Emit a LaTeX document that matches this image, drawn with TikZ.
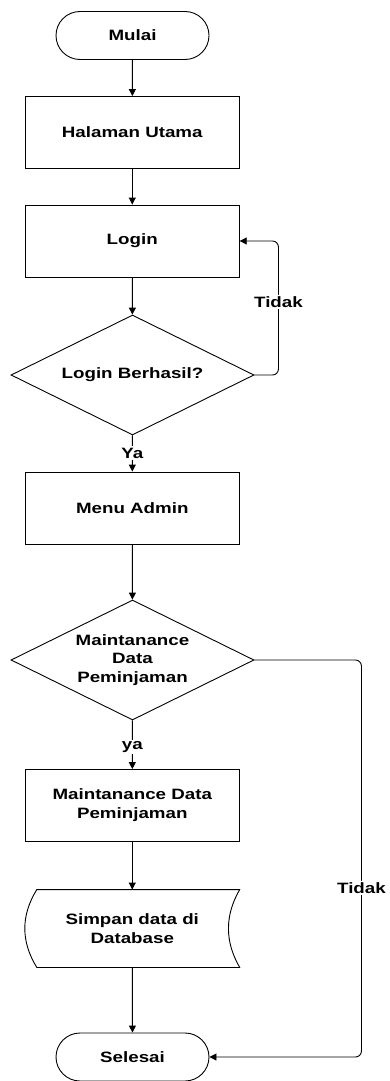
\documentclass[tikz,border=0pt]{standalone}
\usepackage{fontspec}
\setmainfont{Liberation Sans}[FakeStretch=1.25]
\usetikzlibrary{shapes.geometric,shapes.misc,arrows.meta}
\begin{document}
\begin{tikzpicture}[x=1pt,y=-1pt, line width=0.9pt, >={Triangle[length=7pt,width=7pt]},
 every node/.style={font=\fontsize{15}{18.8}\selectfont\bfseries, align=center, inner sep=0pt},
 term/.style={draw, rounded rectangle, minimum width=153pt, minimum height=48pt},
 proc/.style={draw, rectangle, minimum width=214pt, minimum height=72pt},
 dec/.style={draw, diamond, aspect=2, minimum width=243pt, minimum height=120pt},
 lbl/.style={fill=white, inner sep=1.5pt},
 conn/.style={->, rounded corners=6pt}]
\useasboundingbox (0,0) rectangle (390,1081);

\node[term] (mulai) at (132.5,35.5) {Mulai};
\node[proc] (hal) at (132.25,132.5) {Halaman Utama};
\node[proc] (login) at (132.25,241) {Login};
\node[dec] (d1) at (132.5,375) {Login Berhasil?};
\node[proc] (menu) at (132.25,508) {Menu Admin};
\node[dec] (d2) at (132.5,660) {Maintanance\\Data\\Peminjaman};
\node[proc] (mdp) at (132.25,805.5) {Maintanance Data\\Peminjaman};
\node[minimum width=214pt, minimum height=77pt] (db) at (132.25,928.5) {Simpan data di\\Database};
\draw ([xshift=12pt]db.north west) -- (db.north east)
  .. controls ([xshift=-15pt,yshift=-26pt]db.north east) and ([xshift=-15pt,yshift=26pt]db.south east) .. (db.south east)
  -- ([xshift=12pt]db.south west)
  .. controls ([xshift=-4pt,yshift=26pt]db.south west) and ([xshift=-4pt,yshift=-26pt]db.north west) .. ([xshift=12pt]db.north west) -- cycle;
\node[term] (selesai) at (132.5,1057) {Selesai};

\draw[->] (mulai) -- (hal);
\draw[->] (hal) -- (login);
\draw[->] (login) -- (d1);
\draw[->] (d1) -- node[lbl, pos=0.49] (ya1) {Ya} (menu);
\draw[->] (menu) -- (d2);
\draw[->] (d2) -- node[lbl, pos=0.55] (ya2) {ya} (mdp);
\draw[->] (mdp) -- (db);
\draw[->] (db) -- (selesai);
\draw[conn] (d1.east) -- ++(24,0) -- ++(0,-134) node[lbl, pos=0.545] (t1) {Tidak} -- (login.east);
\draw[conn] (d2.east) -- ++(107,0) -- ++(0,397) node[lbl, pos=0.574] (t2) {Tidak} -- (selesai.east);
\end{tikzpicture}
\end{document}
